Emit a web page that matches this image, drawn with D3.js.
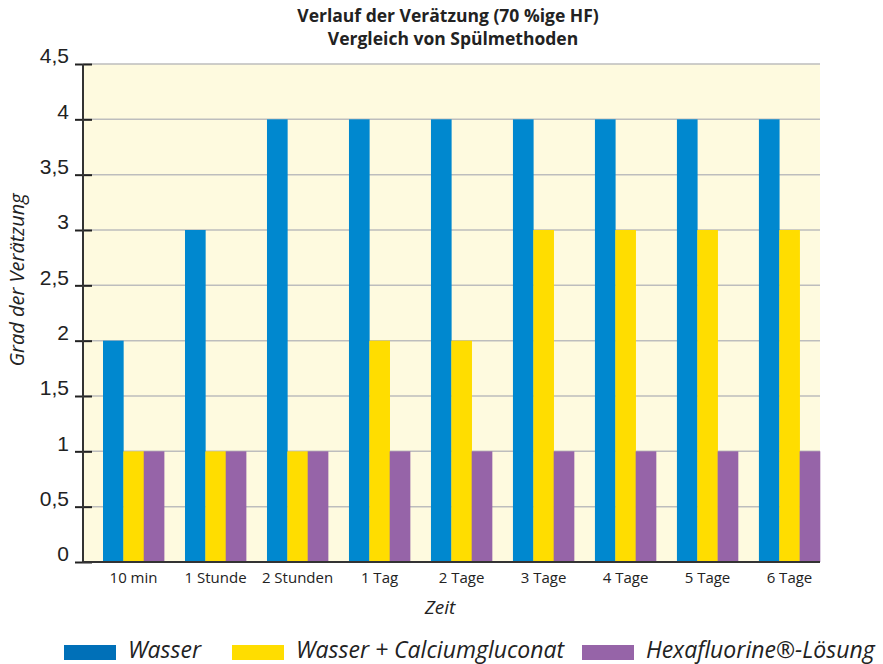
<!DOCTYPE html>
<html>
<head>
<meta charset="utf-8">
<script src="https://cdn.jsdelivr.net/npm/d3@7"></script>
<style>
  body { margin: 0; background: #fff; }
  svg { display: block; font-family: "Open Sans", "DejaVu Sans", sans-serif; }
</style>
</head>
<body>
<svg id="chart" width="883" height="664"></svg>
<script>
// --- data -------------------------------------------------------------
const categories = ['10 min', '1 Stunde', '2 Stunden', '1 Tag', '2 Tage', '3 Tage', '4 Tage', '5 Tage', '6 Tage'];
const seriesNames = ['Wasser', 'Wasser + Calciumgluconat', 'Hexafluorine®-Lösung'];
const wasser = [2, 3, 4, 4, 4, 4, 4, 4, 4];
const calcium = [1, 1, 1, 2, 2, 3, 3, 3, 3];
const hexa = [1, 1, 1, 1, 1, 1, 1, 1, 1];
const yTicks = [0, 0.5, 1, 1.5, 2, 2.5, 3, 3.5, 4, 4.5];
const colors = ['#0088cf', '#ffdd00', '#9664a8'];

const series = [wasser, calcium, hexa];

// --- layout -----------------------------------------------------------
const plot = { left: 83, right: 820, top: 64, bottom: 562 };
const svg = d3.select('#chart');

const x = d3.scaleBand().domain(categories).range([103, plot.right]).paddingInner(0.255).paddingOuter(0);
const xs = d3.scaleBand().domain(d3.range(series.length)).range([0, x.bandwidth()]);
const y = d3.scaleLinear().domain([0, 4.5]).range([plot.bottom, plot.top]);

// background
svg.append('rect')
  .attr('x', plot.left).attr('y', plot.top)
  .attr('width', plot.right - plot.left).attr('height', plot.bottom - plot.top)
  .attr('fill', '#fefadf');

// grid lines
svg.append('g')
  .selectAll('line')
  .data(yTicks.filter(t => t > 0))
  .join('line')
  .attr('x1', plot.left).attr('x2', plot.right)
  .attr('y1', d => y(d)).attr('y2', d => y(d))
  .attr('stroke', '#bdbdbd').attr('stroke-width', 1.5);

// bars
const groups = svg.append('g')
  .selectAll('g')
  .data(categories)
  .join('g')
  .attr('transform', d => 'translate(' + x(d) + ',0)');

groups.selectAll('rect')
  .data((c, i) => series.map((s, k) => ({ k, v: s[i] })))
  .join('rect')
  .attr('x', d => xs(d.k))
  .attr('width', xs.bandwidth() + 0.3)
  .attr('y', d => y(d.v))
  .attr('height', d => y(0) - y(d.v))
  .attr('fill', d => colors[d.k]);

// y axis
const yAxis = svg.append('g')
  .attr('transform', 'translate(' + plot.left + ',0)')
  .call(d3.axisLeft(y).tickValues(yTicks).tickSize(0).tickPadding(14)
    .tickFormat(d => String(d).replace('.', ',')));
yAxis.select('.domain').remove();
yAxis.selectAll('text')
  .attr('font-size', 21).attr('fill', '#222')
  .attr('dy', '-0.05em');
yAxis.selectAll('.tick').append('line')
  .attr('x1', -8).attr('x2', 9)
  .attr('stroke', '#222').attr('stroke-width', 2);
svg.append('line')
  .attr('x1', plot.left).attr('x2', plot.left)
  .attr('y1', plot.top).attr('y2', plot.bottom + 1)
  .attr('stroke', '#333').attr('stroke-width', 2);

// x axis
const xAxis = svg.append('g')
  .attr('transform', 'translate(0,' + plot.bottom + ')')
  .call(d3.axisBottom(x).tickSize(0).tickPadding(10));
xAxis.select('.domain').remove();
xAxis.selectAll('text')
  .attr('font-size', 15).attr('fill', '#222')
  .attr('font-family', '"Liberation Sans Narrow", "Open Sans", sans-serif');
svg.append('line')
  .attr('x1', plot.left - 1).attr('x2', plot.right)
  .attr('y1', plot.bottom).attr('y2', plot.bottom)
  .attr('stroke', '#333').attr('stroke-width', 2);

// titles
svg.append('text')
  .attr('x', 448).attr('y', 22)
  .attr('text-anchor', 'middle').attr('font-size', 17.5).attr('font-weight', 'bold').attr('fill', '#222')
  .text('Verlauf der Verätzung (70 %ige HF)');
svg.append('text')
  .attr('x', 453).attr('y', 45)
  .attr('text-anchor', 'middle').attr('font-size', 17.5).attr('font-weight', 'bold').attr('fill', '#222')
  .text('Vergleich von Spülmethoden');

svg.append('text')
  .attr('x', 440).attr('y', 614)
  .attr('text-anchor', 'middle').attr('font-size', 19).attr('font-style', 'italic').attr('fill', '#222')
  .text('Zeit');

svg.append('text')
  .attr('transform', 'translate(24,280) rotate(-90)')
  .attr('text-anchor', 'middle').attr('font-size', 20).attr('font-style', 'italic').attr('fill', '#222')
  .text('Grad der Verätzung');

// legend
const legendX = [64, 232, 582];
const legend = svg.append('g')
  .selectAll('g')
  .data(seriesNames)
  .join('g')
  .attr('transform', (d, i) => 'translate(' + legendX[i] + ',645)');
legend.append('rect')
  .attr('width', 52).attr('height', 15)
  .attr('fill', (d, i) => i === 0 ? '#0070b8' : colors[i]);
legend.append('text')
  .attr('x', 64).attr('y', 13)
  .attr('font-size', 23).attr('font-style', 'italic').attr('fill', '#222')
  .text(d => d);
</script>
</body>
</html>
